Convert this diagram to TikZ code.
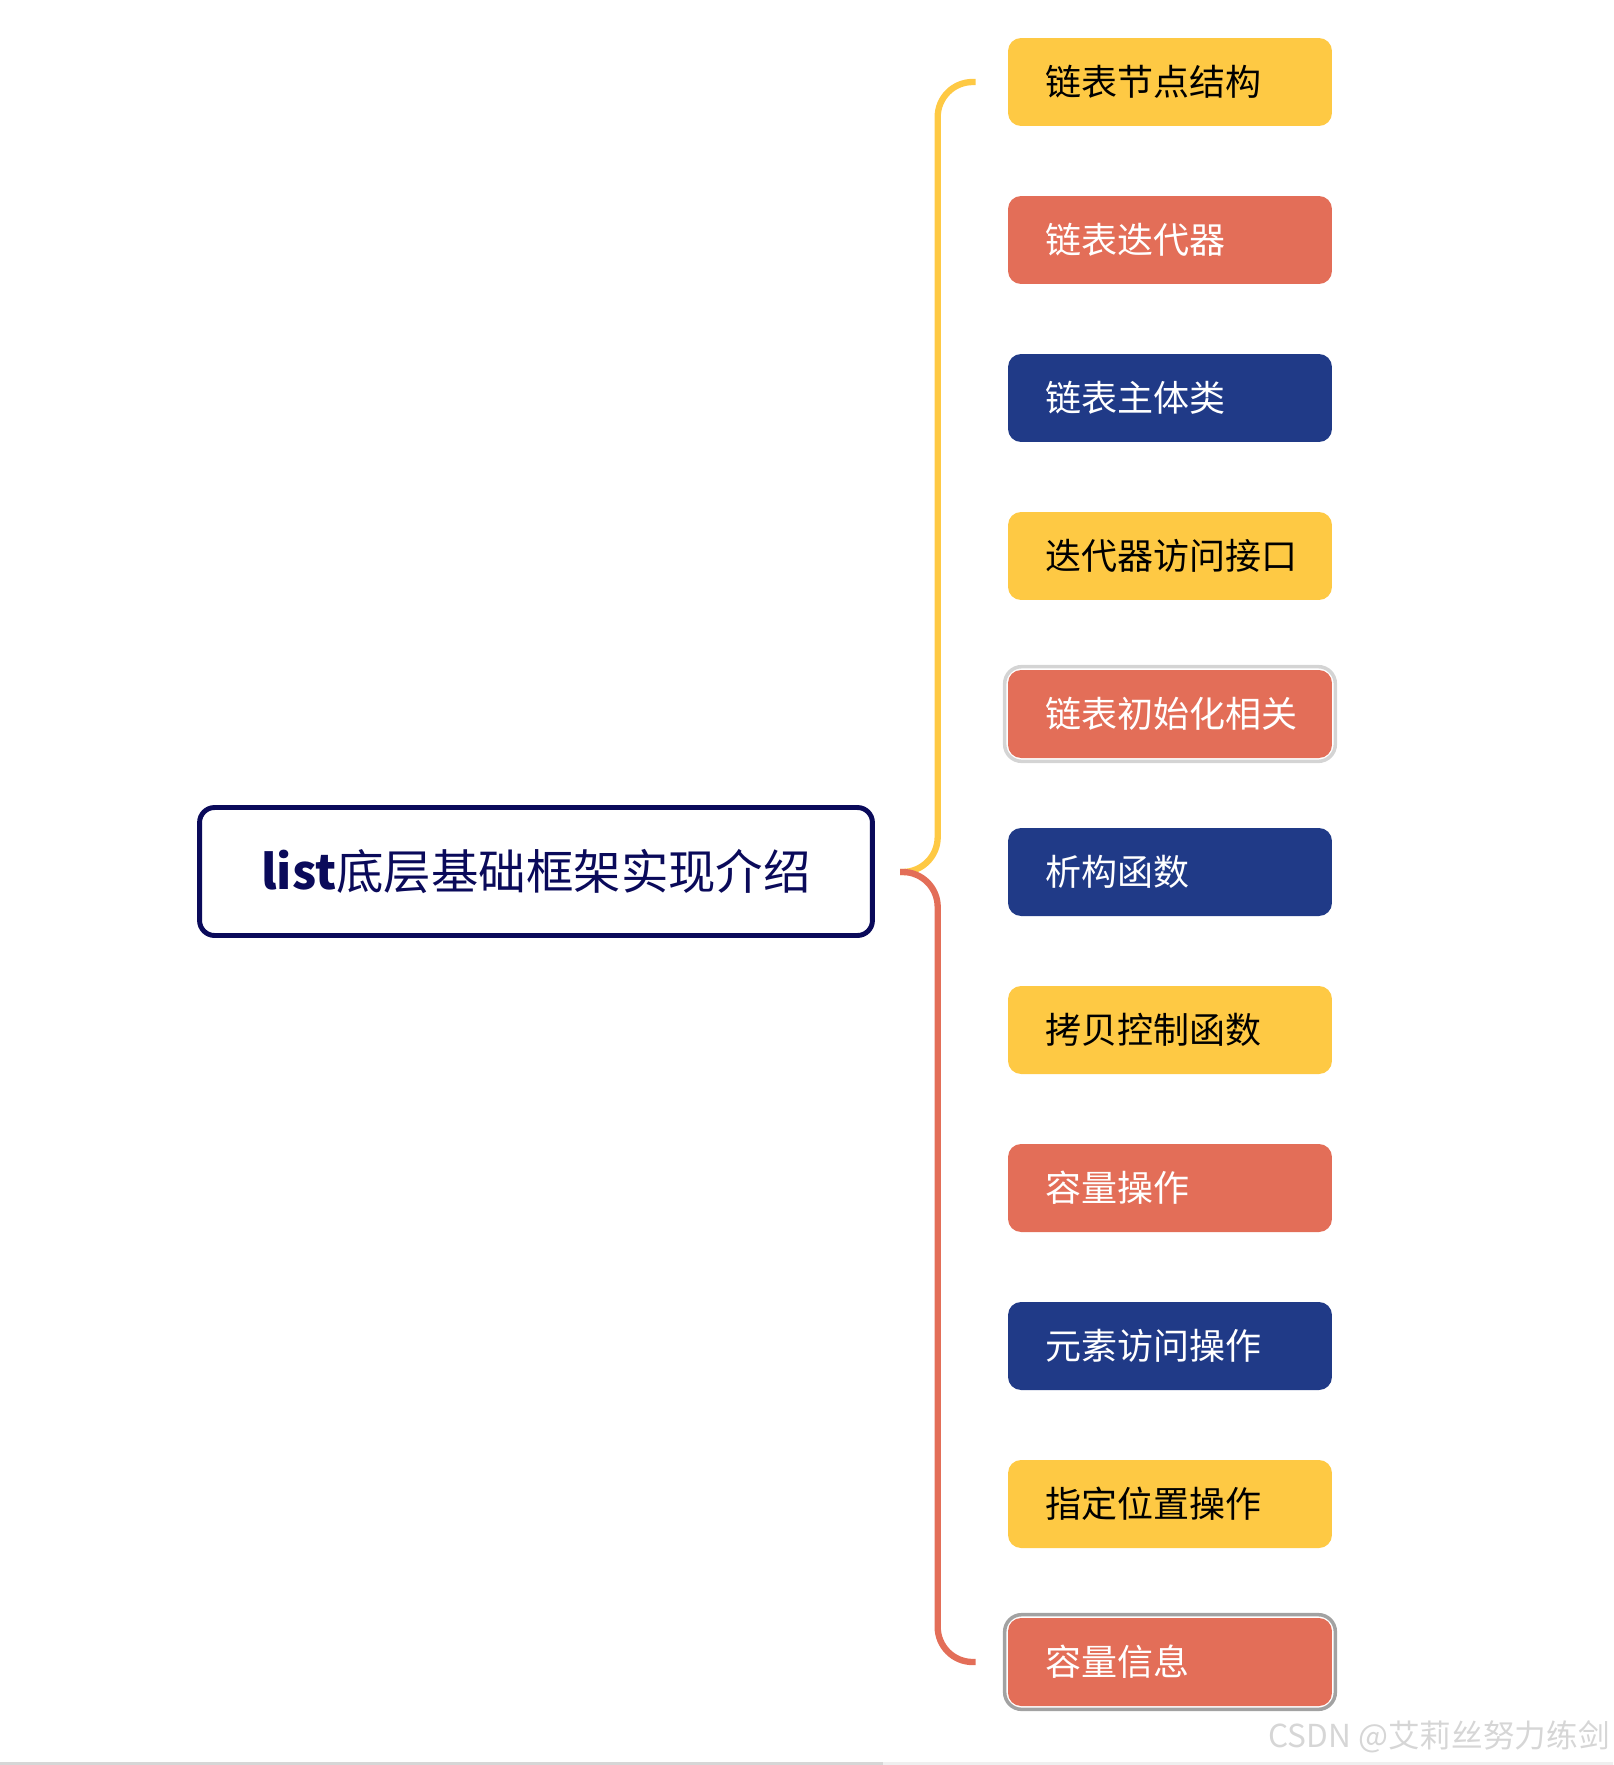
\documentclass[tikz,border=0pt]{standalone}
\usepackage{fontspec}
\setmainfont{Noto Sans CJK SC}
\usepackage{tikz}
\usetikzlibrary{fit}
\definecolor{YellowColor}{RGB}{254,201,68}
\definecolor{RedColor}   {RGB}{227,110,88}
\definecolor{NavyColor}  {RGB}{32,58,135}
\definecolor{RootColor}  {RGB}{10,10,90}
\definecolor{SelColor}   {RGB}{212,212,212}
\definecolor{FocusColor} {RGB}{162,162,162}
\definecolor{MarkColor}  {RGB}{214,214,214}

\begin{document}
\begin{tikzpicture}[x=0.02cm,y=-0.02cm,
  item/.style={rounded corners=0.26cm,minimum width=6.48cm,minimum height=1.76cm,
               text width=5.0cm,inner xsep=0.74cm,align=left,
               font=\fontsize{20.5}{24}\selectfont},
  yitem/.style={item,fill=YellowColor,text=black},
  ritem/.style={item,fill=RedColor,text=white},
  nitem/.style={item,fill=NavyColor,text=white},
  root/.style={draw=RootColor,line width=2.8pt,rounded corners=0.3cm,
               minimum width=13.46cm,minimum height=2.56cm,text=RootColor,
               font=\fontsize{27}{32}\selectfont},
  link/.style={line width=3.6pt,rounded corners=0.7cm},
  selbox/.style={line width=2pt,rounded corners=0.34cm,inner sep=0.06cm}]
\useasboundingbox (0,0) rectangle (1613,1765);
\node[root] (root) at (536,871.5) {\textbf{list}底层基础框架实现介绍};
\coordinate (hub) at (900,872);
\node[yitem] (c1) at (1170,82) {链表节点结构};
\node[ritem] (c2) at (1170,240) {链表迭代器};
\node[nitem] (c3) at (1170,398) {链表主体类};
\node[yitem] (c4) at (1170,556) {迭代器访问接口};
\node[ritem] (c5) at (1170,714) {链表初始化相关};
\node[nitem] (c6) at (1170,872) {析构函数};
\node[yitem] (c7) at (1170,1030) {拷贝控制函数};
\node[ritem] (c8) at (1170,1188) {容量操作};
\node[nitem] (c9) at (1170,1346) {元素访问操作};
\node[yitem] (c10) at (1170,1504) {指定位置操作};
\node[ritem] (c11) at (1170,1662) {容量信息};
\node[selbox,draw=SelColor,fit=(c5)] (c5sel) {};
\node[selbox,draw=FocusColor,fit=(c11)] (c11sel) {};
\draw[link,YellowColor] (hub) -| ([xshift=-1.4cm]c1.west) -- ([xshift=-0.64cm]c1.west);
\draw[link,RedColor] (hub) -| ([xshift=-1.4cm]c11.west) -- ([xshift=-0.64cm]c11.west);
\node[anchor=east,inner sep=0,text=MarkColor,font=\fontsize{18}{21}\selectfont] (mark)
  at (1610,1737) {CSDN @艾莉丝努力练剑};
\fill[MarkColor] (0,1762) rectangle (883,1765);
\fill[MarkColor!40] (883,1762) rectangle (1613,1765);
\end{tikzpicture}
\end{document}
